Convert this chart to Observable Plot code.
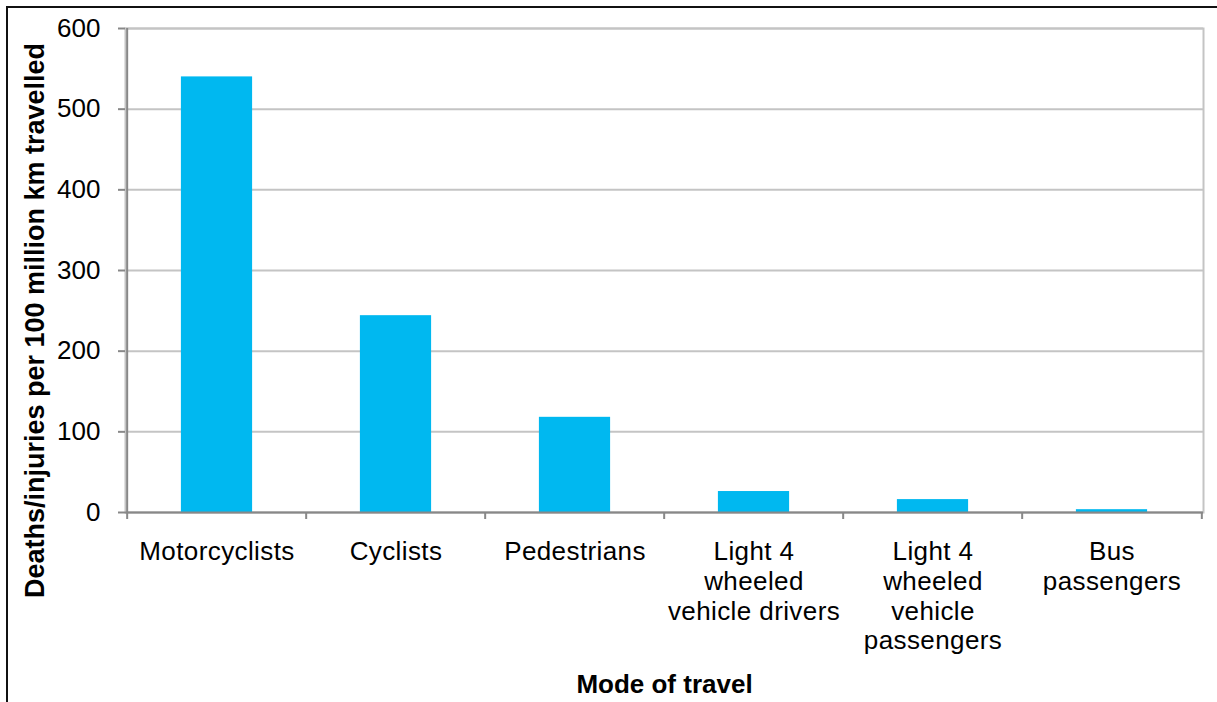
<!DOCTYPE html>
<html>
<head>
<meta charset="utf-8">
<script src="https://cdn.jsdelivr.net/npm/d3@7"></script>
<script src="https://cdn.jsdelivr.net/npm/@observablehq/plot@0.6"></script>
<style>
  html, body { margin: 0; padding: 0; background: #fff; }
  #wrap { position: relative; width: 1217px; height: 702px; overflow: hidden; }
  #border { position: absolute; left: 6px; top: 6px; width: 1220px; height: 710px;
            border-left: 2px solid #111; border-top: 2px solid #111; pointer-events: none; }
  .xlabels text { letter-spacing: 0.4px; }
</style>
</head>
<body>
<div id="wrap"><div id="border"></div></div>
<script>
const categories = [
  "Motorcyclists",
  "Cyclists",
  "Pedestrians",
  "Light 4\nwheeled\nvehicle drivers",
  "Light 4\nwheeled\nvehicle\npassengers",
  "Bus\npassengers"
];
const values = [540, 244, 118, 26, 16, 3.5];
const yTicks = [0, 100, 200, 300, 400, 500, 600];
const yTitle = "Deaths/injuries per 100 million km travelled";
const xTitle = "Mode of travel";

const data = categories.map((c, i) => ({mode: c, value: values[i]}));

const W = 1217, H = 702, ML = 125, MR = 14, MT = 28, MB = 190;
const band = (W - ML - MR) / categories.length;
const barW = band / 2.5;
const inset = (band - barW) / 2;
const font = "'Liberation Sans', Arial, sans-serif";
const axisGray = "#888888";
const gridGray = "#c4c4c4";

const chart = Plot.plot({
  width: W, height: H,
  marginLeft: ML, marginRight: MR, marginTop: MT, marginBottom: MB,
  style: {fontFamily: font, fontSize: "26px", background: "transparent", color: "#000"},
  x: {domain: categories, padding: 0, axis: null, label: null},
  y: {domain: [0, 600], axis: null, label: null},
  marks: [
    Plot.gridY(yTicks, {stroke: gridGray, strokeOpacity: 1, strokeWidth: 2}),
    Plot.frame({stroke: gridGray, strokeWidth: 2}),
    Plot.barY(data, {x: "mode", y: "value", fill: "#00B8F0", insetLeft: inset, insetRight: inset}),
    Plot.ruleY([0], {stroke: axisGray, strokeWidth: 2}),
    Plot.ruleX([categories[0]], {x: d => d, y1: 0, y2: 600, dx: -band / 2, stroke: axisGray, strokeWidth: 2}),
    Plot.axisY(yTicks, {tickSize: 7, tickPadding: 18, stroke: axisGray, strokeWidth: 2, fill: "#000", fontSize: 26, label: null}),
    Plot.axisX(categories, {tickSize: 7, text: null, dx: -band / 2, stroke: axisGray, strokeWidth: 2, label: null}),
    Plot.axisX([categories[categories.length - 1]], {tickSize: 7, text: null, dx: band / 2, stroke: axisGray, strokeWidth: 2, label: null}),
    Plot.axisX(categories, {tickSize: 0, tickPadding: 26, fontSize: 26, lineHeight: 1.15, fill: "#000", label: null, className: "xlabels"}),
    Plot.text([yTitle], {text: d => d, frameAnchor: "left", textAnchor: "middle", rotate: -90, dx: -90, dy: 50, fontWeight: "bold", fontSize: 27, fill: "#000"}),
    Plot.text([xTitle], {text: d => d, frameAnchor: "bottom", lineAnchor: "middle", dy: 172, fontWeight: "bold", fontSize: 26, fill: "#000"})
  ]
});
document.getElementById("wrap").prepend(chart);
</script>
</body>
</html>
